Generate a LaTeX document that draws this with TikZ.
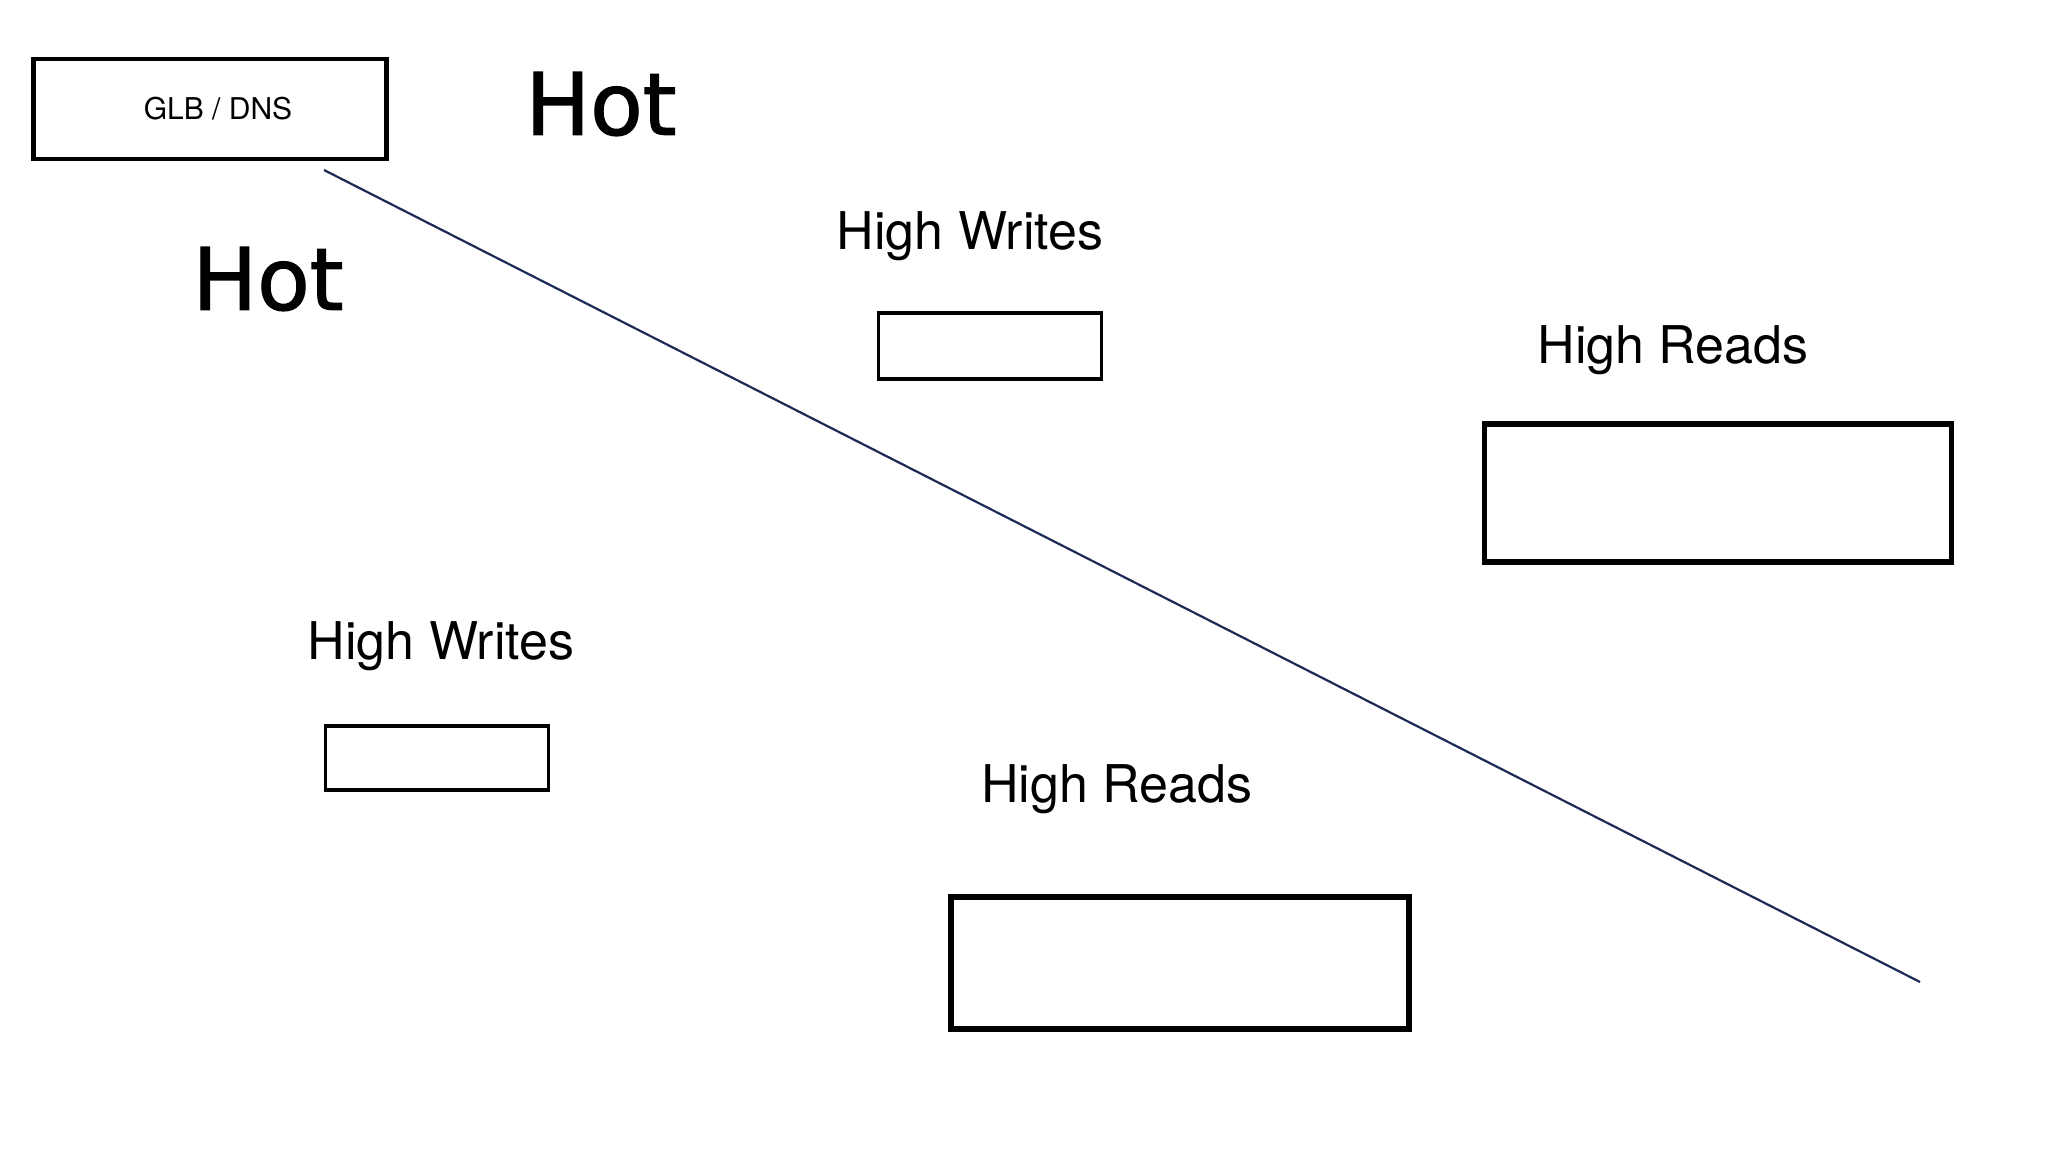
\documentclass[tikz,border=0pt]{standalone}
\usepackage{fontspec}
\setmainfont{TeX Gyre Heros}
\newfontfamily\handfont[FakeBold=1.5]{DejaVu Sans}
\definecolor{navyline}{RGB}{30,42,86}
\begin{document}
\begin{tikzpicture}[x=0.5pt,y=-0.5pt,
    thinbox/.style={draw,line width=1.6pt,rectangle,inner sep=0pt},
    thickbox/.style={draw,line width=2.6pt,rectangle,inner sep=0pt},
    label/.style={font=\fontsize{26}{30}\selectfont},
    hot/.style={font=\handfont\fontsize{43}{46}\selectfont}]
    \useasboundingbox[fill=white] (0,0) rectangle (2048,1152);
    %% Objects
    \node[thinbox,line width=2.2pt,minimum width=176.5pt,minimum height=50pt,font=\fontsize{15}{18}\selectfont] (glb) at (210,109) {\hspace*{8pt}GLB / DNS};
    \node[thinbox,minimum width=111.5pt,minimum height=33pt] (wtop) at (990,346) {};
    \node[thinbox,minimum width=111.5pt,minimum height=32pt] (wleft) at (437,758) {};
    \node[thickbox,minimum width=233.5pt,minimum height=69pt] (rright) at (1718,493) {};
    \node[thickbox,minimum width=229pt,minimum height=66pt] (rbottom) at (1180,963) {};
    %% Labels
    \node[label] (lwtop) at (970,236) {High Writes};
    \node[label] (lwleft) at (441,646) {High Writes};
    \node[label] (lrright) at (1673,350) {High Reads};
    \node[label] (lrbottom) at (1117,789) {High Reads};
    \node[hot] (hottop) at (601,104) {Hot};
    \node[hot] (hotleft) at (268,279) {Hot};
    %% Divider
    \coordinate (dstart) at (324,170);
    \coordinate (dend) at (1920,982);
    \draw[navyline,line width=1.1pt] (dstart) -- (dend);
\end{tikzpicture}
\end{document}
